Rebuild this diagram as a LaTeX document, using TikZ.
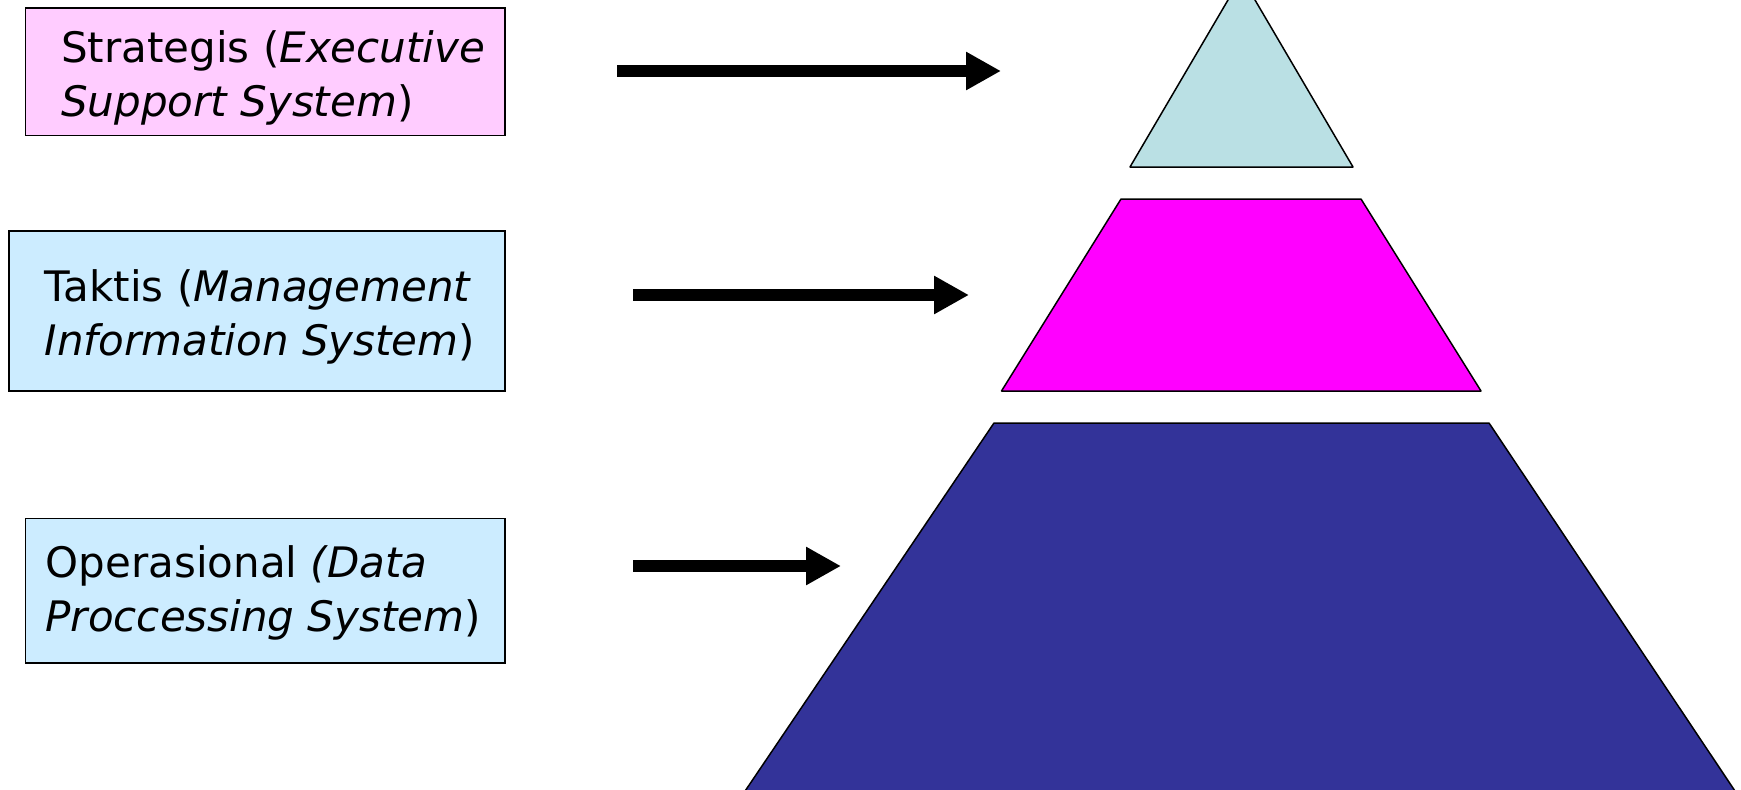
\documentclass[tikz,border=0pt]{standalone}
\usepackage{fontspec}
\setmainfont{DejaVu Sans}
\usetikzlibrary{arrows.meta}
\definecolor{pinkbox}{HTML}{FFCCFF}
\definecolor{bluebox}{HTML}{CCECFF}
\definecolor{topcol}{HTML}{BAE0E4}
\definecolor{midcol}{HTML}{FF00FF}
\definecolor{botcol}{HTML}{333399}
\tikzset{
  levelbox/.style={draw=black, line width=1.5pt, inner sep=0pt},
  boxtext/.style={align=left, inner sep=0pt, font=\fontsize{42}{54}\selectfont},
  bigarrow/.style={line width=12pt, -{Triangle[length=35pt,width=36pt]}},
  layer/.style={draw=black, line width=1.5pt, line join=round}
}
\begin{document}
\begin{tikzpicture}[x=1pt,y=-1pt]
\useasboundingbox (0,0) rectangle (1741,790);
\clip (0,0) rectangle (1741,790);
% boxes
\node[levelbox, fill=pinkbox, minimum width=479.5pt, minimum height=127.7pt] (b1) at (265.25,71.65) {};
\node[levelbox, fill=bluebox, minimum width=496pt, minimum height=160pt] (b2) at (257,311) {};
\node[levelbox, fill=bluebox, minimum width=479.5pt, minimum height=144.5pt] (b3) at (265.25,590.75) {};
\node[boxtext] (t1) at ([shift={(8,6)}]b1.center)
  {Strategis (\textit{Executive}\\\textit{Support System})};
\node[boxtext] (t2) at ([shift={(3,6)}]b2.center)
  {Taktis (\textit{Management}\\\textit{Information System})};
\node[boxtext] (t3) at ([shift={(-2,2)}]b3.center)
  {Operasional \textit{(Data}\\\textit{Proccessing System})};
% pyramid
\draw[layer, fill=topcol] (1241.5,-23) -- (1353,167) -- (1130,167) -- cycle;
\draw[layer, fill=midcol] (1121,199) -- (1361,199) -- (1481,391) -- (1001.5,391) -- cycle;
\draw[layer, fill=botcol] (994,423) -- (1489,423) -- (1741,800) -- (739,800) -- cycle;
% arrows
\coordinate (a1s) at (617,71);
\coordinate (a1e) at (1001,71);
\coordinate (a2s) at (633,295);
\coordinate (a2e) at (969,295);
\coordinate (a3s) at (633,566);
\coordinate (a3e) at (841,566);
\draw[bigarrow] (a1s) -- (a1e);
\draw[bigarrow] (a2s) -- (a2e);
\draw[bigarrow] (a3s) -- (a3e);
\end{tikzpicture}
\end{document}
